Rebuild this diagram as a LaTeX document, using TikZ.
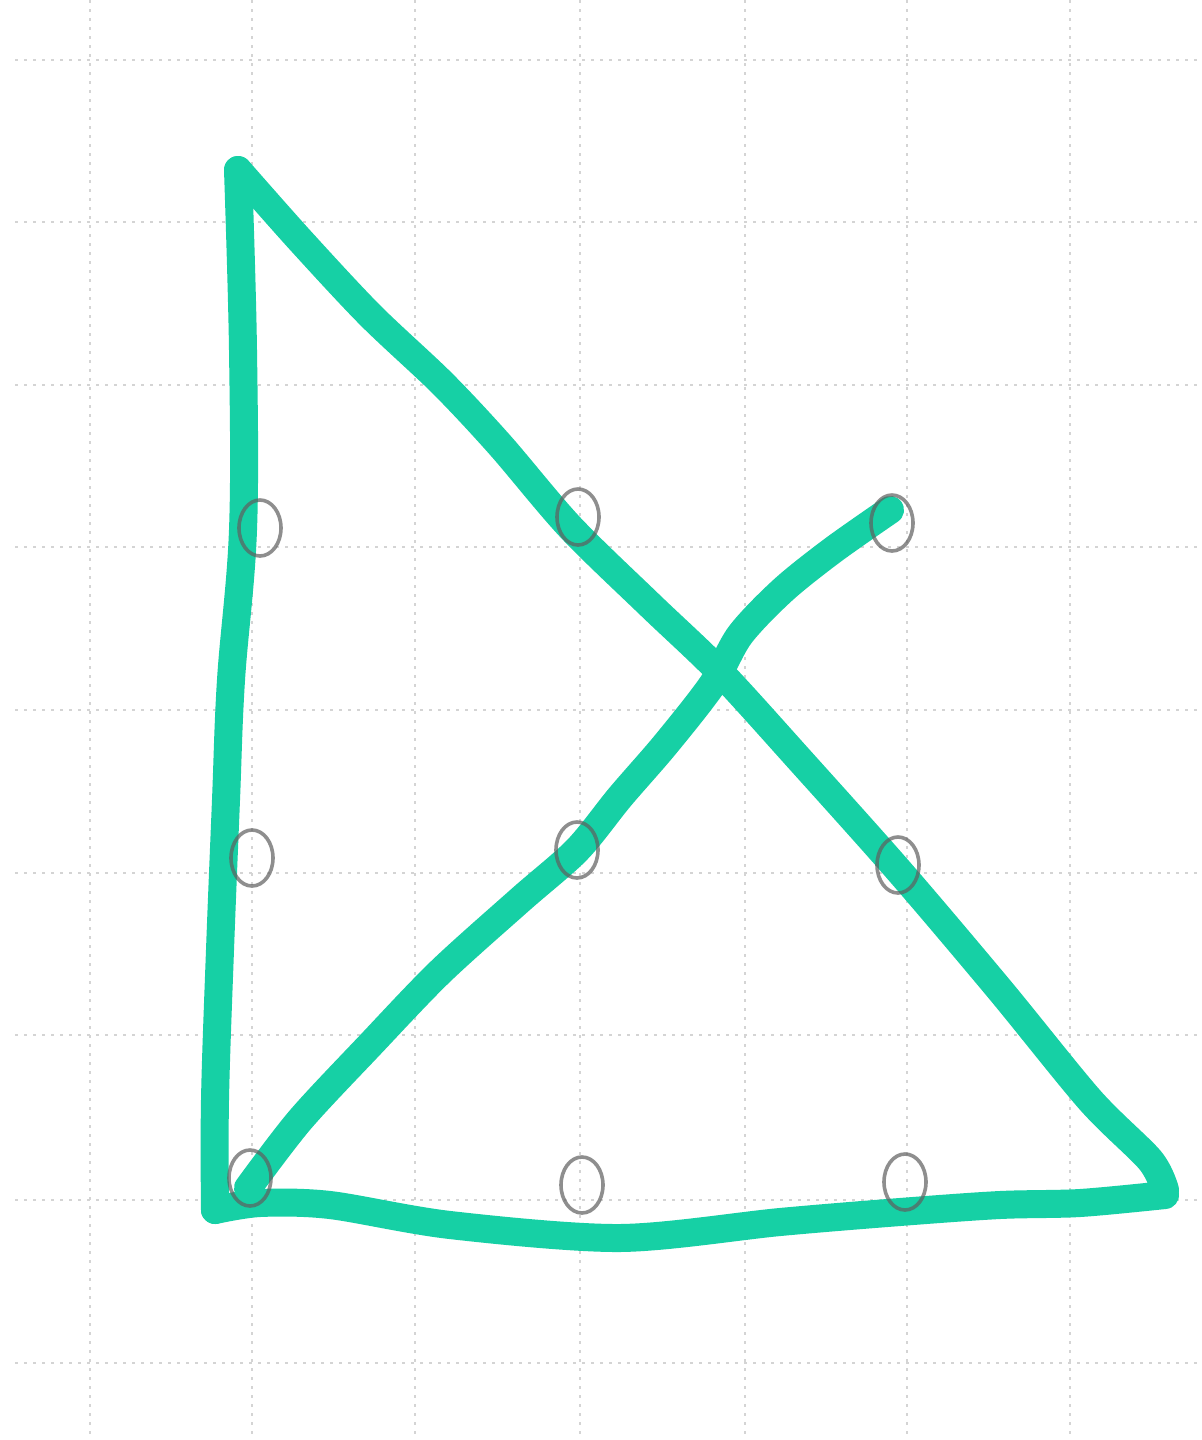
\documentclass[tikz,border=0pt]{standalone}
\usetikzlibrary{shapes.geometric}
\definecolor{marker}{RGB}{22,208,165}
\definecolor{pencil}{RGB}{95,95,95}
\definecolor{gridc}{RGB}{212,212,212}
\tikzset{
  gridline/.style={gridc, line width=0.6pt, dash pattern=on 1.5pt off 3pt},
  stroke/.style={marker, line width=14pt, line cap=round, line join=round},
  dotring/.style={ellipse, draw=pencil, line width=1.8pt, minimum width=21pt, minimum height=28pt, inner sep=0pt, draw opacity=0.7}
}
\begin{document}
\begin{tikzpicture}[x=0.5pt,y=-0.5pt]
\useasboundingbox (0,0) rectangle (1202,1440);
\fill[white] (0,0) rectangle (1202,1440);
% grid
\foreach \gx in {90,252,415,580,745,907,1070}
  \draw[gridline] (\gx,0) -- (\gx,1440);
\foreach \gy in {60,222,385,547,710,873,1035,1200,1363}
  \draw[gridline] (15,\gy) -- (1202,\gy);
% green strokes
\draw[stroke] plot[smooth, tension=0.5] coordinates {(890,510) (833,550) (783,590) (740,635) (712,685) (665,745) (620,797) (577,850) (520,900) (440,972) (370,1045) (300,1120) (248,1188)};
\draw[stroke] plot[smooth, tension=0.6] coordinates {(238,170) (243,350) (243,530) (231,680) (226,800) (220,950) (215,1100) (215,1210)};
\draw[stroke] plot[smooth, tension=0.5] coordinates {(238,170) (300,240) (370,315) (442,383) (500,445) (570,527) (650,605) (720,672) (800,760) (900,872) (1000,990) (1090,1100) (1150,1160) (1165,1190)};
\draw[stroke] plot[smooth, tension=0.5] coordinates {(1165,1195) (1080,1203) (1000,1205) (900,1212) (780,1222) (620,1238) (450,1225) (330,1205) (260,1203) (215,1210)};
% dots
\node[dotring] (d1) at (260,528) {};
\node[dotring] (d2) at (578,517) {};
\node[dotring] (d3) at (892,523) {};
\node[dotring] (d4) at (252,858) {};
\node[dotring] (d5) at (577,850) {};
\node[dotring] (d6) at (898,865) {};
\node[dotring] (d7) at (250,1178) {};
\node[dotring] (d8) at (582,1185) {};
\node[dotring] (d9) at (905,1182) {};
\end{tikzpicture}
\end{document}
